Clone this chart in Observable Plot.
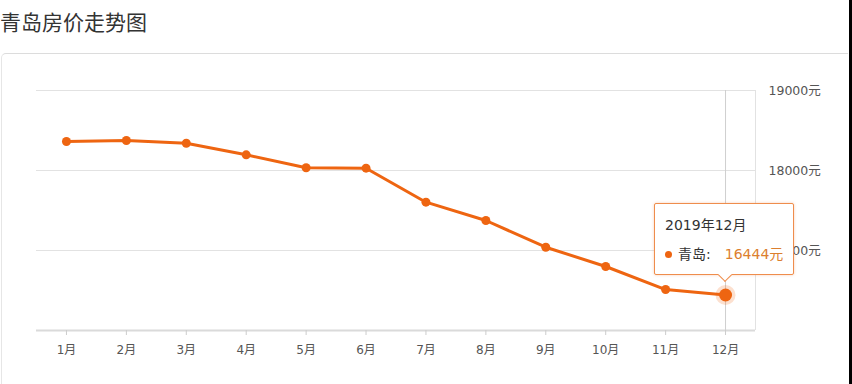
<!DOCTYPE html>
<html>
<head>
<meta charset="utf-8">
<script src="https://cdn.jsdelivr.net/npm/d3@7"></script>
<script src="https://cdn.jsdelivr.net/npm/@observablehq/plot@0.6"></script>
<style>
  html, body { margin: 0; padding: 0; background: #fff; }
  #wrap { position: relative; width: 852px; height: 384px; overflow: hidden; font-family: "Noto Sans CJK SC", "Noto Sans", sans-serif; }
  #title { position: absolute; left: 0; top: 6px; font-size: 21px; color: #333; line-height: 30px; }
  #card { position: absolute; left: 1px; top: 53px; width: 846px; height: 400px; border-top: 1px solid #dcdcdc; border-left: 1px solid #e6e6e6; border-top-left-radius: 5px; }
  #edge { position: absolute; left: 849px; top: 0; width: 3px; height: 384px; background: #000; }
  #chart { position: absolute; left: 0; top: 0; }
  .tip { position: absolute; width: 138px; height: 70px; background: #fff; border: 1px solid #ef8d4c; border-radius: 2px; box-shadow: 0 0 3px rgba(230,120,50,0.35); font-size: 14px; color: #333; box-sizing: content-box; font-family: "DejaVu Sans", "Noto Sans CJK SC", sans-serif; }
  .tip .l1 { position: absolute; left: 10px; top: 11px; line-height: 20px; }
  .tip .l2 { position: absolute; left: 10px; top: 40px; line-height: 20px; white-space: nowrap; }
  .tip .dot { display: inline-block; width: 7px; height: 7px; border-radius: 50%; background: #ee6511; margin-right: 6px; vertical-align: 1px; }
  .tip .val { color: #dc7f2f; margin-left: 14px; }
  .tip .arrow { position: absolute; width: 9px; height: 9px; background: #fff; border-right: 1px solid #ef8d4c; border-bottom: 1px solid #ef8d4c; transform: rotate(45deg); }
</style>
</head>
<body>
<div id="wrap">
  <div id="title">青岛房价走势图</div>
  <div id="card"></div>
  <div id="chart"></div>
  <div id="edge"></div>
</div>
<script>
const months = [1, 2, 3, 4, 5, 6, 7, 8, 9, 10, 11, 12];
const monthLabels = ["1月", "2月", "3月", "4月", "5月", "6月", "7月", "8月", "9月", "10月", "11月", "12月"];
const prices = [18362, 18375, 18341, 18196, 18034, 18029, 17604, 17375, 17041, 16800, 16512, 16444];
const yTicks = [17000, 18000, 19000];
const yDomain = [16000, 19000];
const cityName = "青岛";
const tipPeriod = "2019年12月";
const unit = "元";

const orange = "#ee6511";
const labelFont = "'DejaVu Sans', 'Noto Sans CJK SC', sans-serif";
const data = months.map((m, i) => ({month: m, label: monthLabels[i], price: prices[i]}));
const last = [data[data.length - 1]];

const plot = Plot.plot({
  width: 852,
  height: 384,
  marginLeft: 36,
  marginRight: 97,
  marginTop: 90,
  marginBottom: 54,
  style: {background: "transparent", fontFamily: labelFont, fontSize: "12px", color: "#555"},
  x: {type: "linear", domain: [0.5, 12.5], axis: null},
  y: {domain: yDomain, axis: null},
  marks: [
    Plot.ruleY(yTicks, {stroke: "#e2e2e2", strokeWidth: 1}),
    Plot.ruleX([12.5], {stroke: "#e2e2e2", strokeWidth: 1}),
    Plot.ruleY([yDomain[0]], {stroke: "#dadada", strokeWidth: 2}),
    Plot.ruleX([12], {stroke: "#cfcfcf", strokeWidth: 1}),
    Plot.axisX({ticks: months, tickSize: 5, stroke: "#cccccc", tickFormat: () => "", label: null}),
    Plot.axisX({ticks: months, tickSize: 0, tickPadding: 15, tickFormat: (d) => monthLabels[months.indexOf(d)], fill: "#555", fontSize: 12, label: null}),
    Plot.axisY({anchor: "right", ticks: yTicks, tickSize: 0, tickPadding: 13, tickFormat: (d) => d + unit, fill: "#555", fontSize: 12.5, textAnchor: "start", label: null}),
    Plot.line(data, {x: "month", y: "price", stroke: orange, strokeWidth: 3}),
    Plot.dot(data, {x: "month", y: "price", r: 4.5, fill: orange}),
    Plot.dot(last, {x: "month", y: "price", r: 10, fill: orange, fillOpacity: 0.2}),
    Plot.dot(last, {x: "month", y: "price", r: 6.5, fill: orange})
  ]
});
document.getElementById("chart").appendChild(plot);

// tooltip positioned through the plot's scales
const px = plot.scale("x").apply(last[0].month);
const py = plot.scale("y").apply(last[0].price);
const tip = document.createElement("div");
tip.className = "tip";
const tipW = 138, tipH = 70;
tip.style.left = (px - 71) + "px";
tip.style.top = (py - 19 - (tipH + 2)) + "px";
tip.innerHTML = `<div class="l1">${tipPeriod}</div>
<div class="l2"><span class="dot"></span>${cityName}:<span class="val">${last[0].price}${unit}</span></div>
<div class="arrow" style="left:${70 - 5.5}px; top:${tipH - 4.5}px"></div>`;
document.getElementById("wrap").insertBefore(tip, document.getElementById("edge"));
</script>
</body>
</html>
